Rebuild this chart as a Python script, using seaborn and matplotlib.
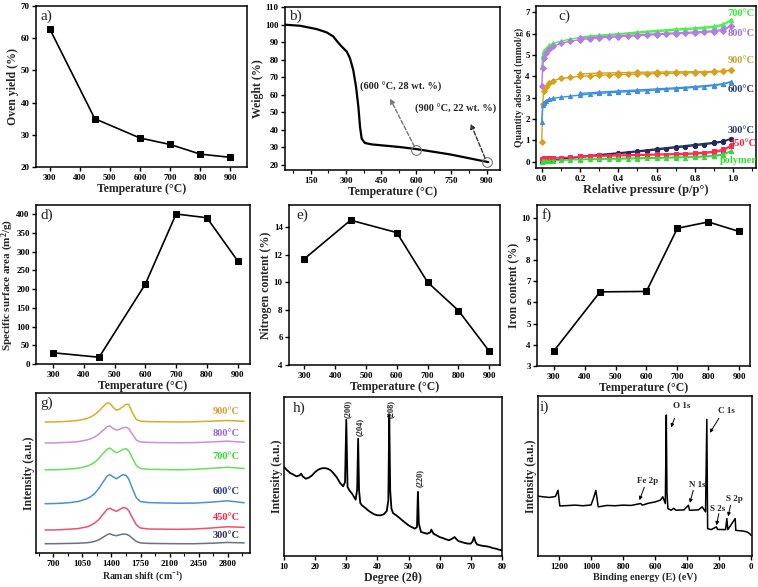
import numpy as np
import pandas as pd
import matplotlib
matplotlib.use("Agg")
import matplotlib.pyplot as plt
import seaborn as sns
from matplotlib.ticker import MultipleLocator, NullLocator

sns.set_theme(style="ticks")
plt.rcParams['font.family'] = ['Liberation Serif', 'DejaVu Serif']
plt.rcParams['font.weight'] = 'bold'
plt.rcParams['axes.labelweight'] = 'bold'
plt.rcParams['mathtext.default'] = 'regular'
plt.rcParams['axes.linewidth'] = 1.1
plt.rcParams['xtick.major.width'] = 1.0
plt.rcParams['ytick.major.width'] = 1.0
plt.rcParams['xtick.minor.width'] = 0.8
plt.rcParams['xtick.major.size'] = 3
plt.rcParams['ytick.major.size'] = 3
plt.rcParams['xtick.minor.size'] = 2
plt.rcParams['xtick.labelsize'] = 6.5
plt.rcParams['ytick.labelsize'] = 6.5
plt.rcParams['axes.labelsize'] = 8.5
plt.rcParams['xtick.major.pad'] = 2
plt.rcParams['ytick.major.pad'] = 1.5
plt.rcParams['axes.labelpad'] = 1

# ---------------- data ----------------
temps = [300, 450, 600, 700, 800, 900]
oven_yield = [63, 35, 29, 27, 24, 23]
surface_area = [30, 18, 213, 400, 390, 275]
nitrogen = [11.7, 14.5, 13.6, 10.0, 7.95, 5.0]
iron = [3.7, 6.5, 6.52, 9.5, 9.8, 9.35]

tga_T = [40, 104, 175, 218, 246, 263, 282, 303, 317, 331, 343, 353, 360, 367, 381, 410, 530, 602, 744, 907]
tga_W = [99.9, 99.3, 97.4, 95.5, 93.2, 90.3, 87.4, 84.6, 80.8, 74.1, 64.5, 53.0, 41.6, 34.9, 32.4, 31.6, 30.1, 28.9, 25.9, 21.5]
tga_marks_T = [600, 900]
tga_marks_W = [28.3, 21.6]

p_ads = [0.0, 0.005, 0.01, 0.02, 0.04, 0.06, 0.1, 0.15, 0.2, 0.25, 0.3, 0.35, 0.4, 0.45, 0.5,
         0.55, 0.6, 0.65, 0.7, 0.75, 0.8, 0.85, 0.9, 0.95, 0.99]
p_des = [0.99, 0.95, 0.9, 0.8, 0.7, 0.6, 0.5, 0.4, 0.3, 0.2]
iso_labels = ['700°C', '800°C', '900°C', '600°C', '300°C', '450°C', 'polymer']
ads_700 = [4.45, 5.0, 5.2, 5.3, 5.45, 5.55, 5.65, 5.75, 5.82, 5.87, 5.9, 5.94, 5.97, 6.0, 6.03,
           6.07, 6.1, 6.13, 6.16, 6.2, 6.22, 6.25, 6.3, 6.4, 6.65]
des_700 = [6.65, 6.45, 6.35, 6.27, 6.22, 6.15, 6.08, 6.0, 5.93, 5.85]
ads_800 = [3.55, 4.4, 4.85, 5.1, 5.3, 5.42, 5.55, 5.65, 5.72, 5.77, 5.8, 5.83, 5.86, 5.88, 5.9,
           5.93, 5.96, 5.98, 6.0, 6.02, 6.04, 6.06, 6.1, 6.15, 6.38]
des_800 = [6.38, 6.2, 6.14, 6.08, 6.04, 6.0, 5.95, 5.9, 5.85, 5.78]
ads_900 = [0.9, 2.7, 3.3, 3.5, 3.7, 3.8, 3.9, 3.95, 4.0, 4.03, 4.05, 4.07, 4.08, 4.1, 4.11,
           4.12, 4.13, 4.14, 4.15, 4.16, 4.17, 4.18, 4.2, 4.23, 4.3]
des_900 = [4.3, 4.25, 4.23, 4.22, 4.21, 4.2, 4.19, 4.17, 4.15, 4.12]
ads_600 = [1.85, 2.65, 2.75, 2.85, 2.92, 2.97, 3.02, 3.07, 3.12, 3.17, 3.2, 3.23, 3.26, 3.28, 3.3,
           3.33, 3.36, 3.39, 3.42, 3.45, 3.48, 3.52, 3.57, 3.63, 3.75]
des_600 = [3.75, 3.66, 3.6, 3.52, 3.46, 3.41, 3.36, 3.31, 3.26, 3.2]
ads_300 = [0.0, 0.02, 0.03, 0.05, 0.07, 0.09, 0.12, 0.16, 0.2, 0.25, 0.29, 0.33, 0.37, 0.42, 0.46,
           0.5, 0.55, 0.6, 0.65, 0.7, 0.75, 0.8, 0.86, 0.93, 1.08]
des_300 = [1.08, 0.96, 0.9, 0.8, 0.7, 0.6, 0.5, 0.41, 0.33, 0.24]
ads_450 = [0.12, 0.14, 0.15, 0.16, 0.17, 0.18, 0.19, 0.21, 0.23, 0.24, 0.25, 0.26, 0.27, 0.28, 0.29,
           0.3, 0.31, 0.32, 0.33, 0.34, 0.36, 0.39, 0.43, 0.52, 0.75]
des_450 = [0.75, 0.58, 0.48, 0.4, 0.37, 0.35, 0.33, 0.31, 0.29, 0.27]
ads_poly = [0.0, 0.01, 0.02, 0.03, 0.04, 0.05, 0.06, 0.08, 0.09, 0.1, 0.11, 0.12, 0.12, 0.13, 0.14,
            0.15, 0.16, 0.17, 0.18, 0.19, 0.2, 0.22, 0.25, 0.32, 0.5]
des_poly = [0.5, 0.36, 0.28, 0.23, 0.21, 0.19, 0.17, 0.15, 0.13, 0.11]
iso_label_y = [6.93, 6.0, 4.72, 3.4, 1.46, 0.85, 0.05]
iso_label_x = [0.97, 0.97, 0.97, 0.97, 0.97, 0.985, 0.93]

raman_x = [600, 700, 800, 900, 1000, 1100, 1150, 1200, 1250, 1300, 1350, 1380, 1420, 1460, 1500,
           1540, 1580, 1610, 1650, 1700, 1750, 1850, 2000, 2200, 2400, 2600, 2800, 3000]
raman_labels = ['300°C', '450°C', '600°C', '700°C', '800°C', '900°C']
raman_300 = [5.8, 5.8, 5.9, 6.0, 6.1, 6.4, 6.7, 7.3, 8.3, 9.9, 11.5, 12.0, 11.2, 10.8, 11.4,
             11.8, 11.7, 11.0, 9.3, 7.2, 6.3, 6.0, 5.9, 5.8, 5.8, 6.1, 6.6, 6.3]
raman_450 = [14.4, 14.4, 14.6, 14.9, 15.3, 16.3, 17.3, 18.8, 21.0, 24.3, 27.4, 28.0, 26.9, 26.1, 27.2,
             28.4, 28.0, 26.3, 22.2, 17.6, 15.6, 15.0, 14.9, 14.8, 15.0, 15.6, 16.4, 16.0]
raman_600 = [30.8, 30.9, 31.1, 31.5, 32.2, 33.8, 35.2, 37.3, 40.5, 44.5, 48.2, 49.0, 47.6, 46.4, 47.8,
             49.0, 48.4, 46.0, 40.5, 34.5, 32.1, 31.5, 31.3, 31.1, 31.2, 31.8, 32.6, 31.4]
raman_700 = [52.0, 52.0, 52.2, 52.5, 53.0, 54.2, 55.2, 56.8, 59.2, 62.3, 65.0, 65.6, 64.0, 62.6, 63.6,
             64.8, 65.2, 63.6, 59.5, 54.6, 52.8, 52.3, 52.2, 52.0, 52.3, 52.9, 53.6, 52.8]
raman_800 = [68.8, 68.8, 69.0, 69.2, 69.6, 70.6, 71.4, 72.6, 74.4, 76.8, 79.0, 79.4, 77.8, 76.8, 77.4,
             78.2, 78.6, 77.6, 74.4, 70.6, 69.4, 69.1, 69.0, 68.9, 69.0, 69.4, 69.9, 69.2]
raman_900 = [81.9, 81.9, 82.1, 82.4, 82.9, 84.0, 85.0, 86.6, 88.8, 91.6, 93.8, 93.6, 91.0, 89.2, 90.0,
             91.6, 93.0, 92.8, 87.8, 83.4, 82.4, 82.1, 82.0, 81.9, 82.0, 82.4, 82.8, 82.3]
raman_label_y = [10.8, 22.3, 38.5, 60.4, 75.0, 88.5]

xrd_deg = [10, 11, 12, 13, 14, 15, 15.5, 16, 17, 18, 19, 20, 21, 22, 23, 24, 25, 26, 27, 28, 29, 29.6,
           30, 30.4, 31, 32, 33, 33.5, 33.8, 34.1, 34.5, 35, 36, 37, 38, 39, 40, 41, 42, 43, 43.5,
           43.8, 44.1, 44.5, 45, 46, 47, 48, 49, 50, 51, 52, 52.7, 53, 53.3, 54, 55, 56, 57, 57.3,
           58, 59, 60, 61, 62, 63, 64, 64.8, 65.5, 66, 67, 68, 69, 70, 70.6, 71, 71.5, 72, 73, 74,
           75, 76, 77, 78, 79, 80]
xrd_int = [56.0, 53.9, 52.2, 51.2, 50.1, 50.7, 51.8, 50.1, 48.6, 49.3, 50.7, 52.8, 54.3, 55.1, 55.3,
           54.9, 53.9, 51.8, 49.3, 45.9, 43.8, 46.5, 85.7, 43.4, 41.3, 38.8, 35.4, 42.0, 73.8, 41.3,
           33.3, 31.9, 30.4, 28.7, 27.3, 26.2, 25.6, 25.6, 26.2, 28.3, 35.0, 89.1, 41.3, 29.8, 27.0,
           25.6, 24.1, 22.4, 20.8, 19.3, 18.2, 17.2, 18.2, 40.3, 20.3, 15.1, 14.5, 14.0, 14.9, 16.6,
           14.0, 13.0, 11.9, 11.3, 10.5, 9.9, 10.9, 11.9, 10.3, 9.4, 8.8, 8.2, 7.8, 7.8, 9.4, 11.9,
           8.8, 7.3, 6.7, 6.3, 6.1, 5.7, 5.0, 4.6, 4.0, 3.6]
xrd_peaks = ['(200)', '(204)', '(208)', '(220)']
xrd_peak_x = [30.5, 34.4, 44.4, 53.6]
xrd_peak_y = [92.5, 81.0, 92.5, 49.3]

xps_eV = [1331, 1300, 1260, 1222, 1206, 1195, 1150, 1100, 1050, 1000, 985, 970, 955, 900, 850, 800,
          750, 700, 690, 680, 640, 600, 567, 552, 536, 530, 526, 520, 500, 484, 470, 420, 392, 385,
          330, 306, 285, 277, 272, 250, 217, 210, 160, 152, 146, 100, 96, 50, 25, 10, 0]
xps_int = [37.4, 37.0, 36.6, 37.2, 41.1, 31.3, 31.5, 31.8, 31.4, 31.9, 36.0, 41.0, 30.7, 31.6, 31.4,
           31.8, 31.6, 32.6, 32.8, 31.8, 33.0, 33.8, 34.9, 37.0, 32.8, 88.1, 40.0, 29.6, 28.6, 29.8,
           28.6, 28.8, 31.7, 28.6, 28.8, 30.7, 27.6, 85.4, 17.1, 16.5, 18.2, 16.6, 16.5, 23.4, 16.5,
           23.4, 16.0, 15.6, 15.0, 14.0, 12.9]
xps_names = ['O 1s', 'C 1s', 'Fe 2p', 'N 1s', 'S 2s', 'S 2p']
xps_text_x = [435, 156, 646, 335, 210, 104]
xps_text_y = [93.7, 90.8, 47.0, 44.3, 29.6, 35.9]
xps_tail_x = [479, 202, 667, 362, 202, 129]
xps_tail_y = [86.0, 86.0, 43.0, 41.0, 26.5, 31.7]
xps_head_x = [500, 258, 698, 383, 217, 144]
xps_head_y = [80.4, 77.0, 34.9, 33.2, 19.2, 24.8]

# ---------------- layout ----------------
W, H = 758, 587
fig = plt.figure(figsize=(W / 100, H / 100), dpi=100)


def add_ax(l, t, r, b):
    return fig.add_axes([l / W, 1 - b / H, (r - l) / W, (b - t) / H])


def panel_label(ax, s, x=0.02, y=0.98):
    ax.text(x, y, s, transform=ax.transAxes, ha='left', va='top', fontsize=11, fontweight='normal')


def line_marks(ax, x, y):
    sns.lineplot(x=x, y=y, ax=ax, color='black', marker='s', markersize=4.5,
                 markeredgecolor='black', linewidth=1.2, estimator=None, sort=False)


# a) oven yield
ax = add_ax(36, 6, 247, 167)
line_marks(ax, temps, oven_yield)
ax.set_xlim(255, 955)
ax.set_ylim(20, 70)
ax.xaxis.set_major_locator(MultipleLocator(100))
ax.yaxis.set_major_locator(MultipleLocator(10))
ax.set_xlabel('Temperature (°C)')
ax.set_ylabel('Oven yield (%)')
panel_label(ax, 'a)')

# b) TGA
ax = add_ax(285, 7, 500, 170)
sns.lineplot(x=tga_T, y=tga_W, ax=ax, color='black', linewidth=1.6, estimator=None, sort=False)
ax.plot(tga_marks_T, tga_marks_W, linestyle='none', marker='o', markersize=7,
        markerfacecolor='none', markeredgecolor='#777777', markeredgewidth=0.8)
ax.annotate('', xy=(488, 57.8), xytext=(tga_marks_T[0], tga_marks_W[0]),
            arrowprops=dict(arrowstyle='-|>', color='#777777', lw=1.0, ls=(0, (3, 1.5)),
                            mutation_scale=7, shrinkA=3, shrinkB=0))
ax.annotate('', xy=(832, 43.5), xytext=(tga_marks_T[1], tga_marks_W[1]),
            arrowprops=dict(arrowstyle='-|>', color='#333333', lw=1.0, ls=(0, (3, 1.5)),
                            mutation_scale=7, shrinkA=3, shrinkB=0))
ax.text(533, 64.1, '(600 °C, 28 wt. %)', ha='center', va='center', fontsize=7.5)
ax.text(768, 51.7, '(900 °C, 22 wt. %)', ha='center', va='center', fontsize=7.5)
ax.set_xlim(40, 957)
ax.set_ylim(17, 110)
ax.xaxis.set_major_locator(MultipleLocator(150))
ax.xaxis.set_minor_locator(MultipleLocator(75))
ax.yaxis.set_major_locator(MultipleLocator(10))
ax.set_xlabel('Temperature (°C)')
ax.set_ylabel('Weight (%)')
panel_label(ax, 'b)', 0.02, 0.985)

# c) isotherms
ax = add_ax(536, 6, 756, 168)
ads_list = [ads_700, ads_800, ads_900, ads_600, ads_300, ads_450, ads_poly]
des_list = [des_700, des_800, des_900, des_600, des_300, des_450, des_poly]
iso_colors = ['#4cf04c', '#b27ee6', '#d6a21e', '#3d8fe0', '#1f2d5c', '#ff2a55', '#3ad83a']
iso_text_colors = ['#33ee33', '#a070e0', '#c9a030', '#2c3a88', '#2c3a70', '#ff2040', '#33dd33']
iso_markers = ['^', 'D', 'D', '^', 'o', 's', '^']
for ads, des, col, mk in zip(ads_list, des_list, iso_colors, iso_markers):
    sns.lineplot(x=p_ads, y=ads, ax=ax, color=col, marker=mk, markersize=3, markeredgecolor=col,
                 linewidth=1.0, estimator=None, sort=False)
    sns.lineplot(x=p_des, y=des, ax=ax, color=col, marker=mk, markersize=3, markeredgecolor=col,
                 linewidth=1.0, estimator=None, sort=False)
for lab, lx, ly, tc in zip(iso_labels, iso_label_x, iso_label_y, iso_text_colors):
    ax.text(lx, ly, lab, color=tc, fontsize=7.5, ha='left', va='center', clip_on=False)
ax.set_xlim(-0.03, 1.12)
ax.set_ylim(-0.3, 7.3)
ax.xaxis.set_major_locator(MultipleLocator(0.2))
ax.xaxis.set_minor_locator(MultipleLocator(0.1))
ax.yaxis.set_major_locator(MultipleLocator(1))
ax.set_xlabel('Relative pressure (p/p°)', fontsize=9)
ax.set_ylabel('Quantity adsorbed (mmol/g)', fontsize=7)
panel_label(ax, 'c)', 0.1, 0.98)

# d) surface area
ax = add_ax(36, 205, 250, 364)
line_marks(ax, temps, surface_area)
ax.set_xlim(245, 940)
ax.set_ylim(0, 424)
ax.xaxis.set_major_locator(MultipleLocator(100))
ax.yaxis.set_major_locator(MultipleLocator(50))
ax.set_xlabel('Temperature (°C)')
ax.set_ylabel('Specific surface area (m$^2$/g)', fontsize=8, labelpad=0)
panel_label(ax, 'd)')

# e) nitrogen
ax = add_ax(289, 205, 500, 365)
line_marks(ax, temps, nitrogen)
ax.set_xlim(250, 935)
ax.set_ylim(4, 15.6)
ax.xaxis.set_major_locator(MultipleLocator(100))
ax.yaxis.set_major_locator(MultipleLocator(2))
ax.set_xlabel('Temperature (°C)')
ax.set_ylabel('Nitrogen content (%)')
panel_label(ax, 'e)', 0.035, 0.98)

# f) iron
ax = add_ax(537, 205, 750, 366)
line_marks(ax, temps, iron)
ax.set_xlim(246, 935)
ax.set_ylim(3, 10.6)
ax.xaxis.set_major_locator(MultipleLocator(100))
ax.yaxis.set_major_locator(MultipleLocator(1))
ax.set_xlabel('Temperature (°C)')
ax.set_ylabel('Iron content (%)')
panel_label(ax, 'f)')

# g) Raman
ax = add_ax(36, 393, 250, 553)
raman_list = [raman_300, raman_450, raman_600, raman_700, raman_800, raman_900]
raman_colors = ['#6a6f8c', '#f0506e', '#4a90d8', '#66e05a', '#c98ee0', '#deaa2a']
raman_text_colors = ['#333355', '#ff2040', '#2c3a88', '#33dd33', '#9a68d8', '#e09a3a']
for spec, col in zip(raman_list, raman_colors):
    sns.lineplot(x=raman_x, y=spec, ax=ax, color=col, linewidth=1.1, estimator=None, sort=False)
for lab, ly, tc in zip(raman_labels, raman_label_y, raman_text_colors):
    ax.text(2620, ly, lab, color=tc, fontsize=7.5, ha='left', va='center')
ax.set_xlim(490, 3070)
ax.set_ylim(0, 100)
ax.xaxis.set_major_locator(MultipleLocator(350))
ax.xaxis.set_minor_locator(MultipleLocator(175))
ax.yaxis.set_major_locator(NullLocator())
ax.set_xlabel('Raman shift (cm$^{-1}$)', fontsize=7)
ax.set_ylabel('Intensity (a.u.)')
panel_label(ax, 'g)')

# h) XRD
ax = add_ax(284, 397, 502, 556)
sns.lineplot(x=xrd_deg, y=xrd_int, ax=ax, color='black', linewidth=1.3, estimator=None, sort=False)
for lab, px, py in zip(xrd_peaks, xrd_peak_x, xrd_peak_y):
    ax.text(px, py, lab, rotation=90, ha='center', va='center', fontsize=6)
ax.set_xlim(10, 80)
ax.set_ylim(0, 100)
ax.xaxis.set_major_locator(MultipleLocator(10))
ax.yaxis.set_major_locator(NullLocator())
ax.set_xlabel('Degree (2θ)')
ax.set_ylabel('Intensity (a.u.)')
panel_label(ax, 'h)', 0.04, 0.97)

# i) XPS
ax = add_ax(538, 396, 752, 556)
sns.lineplot(x=xps_eV, y=xps_int, ax=ax, color='black', linewidth=1.1, estimator=None, sort=False)
for lab, tx, ty, ax0, ay0, hx, hy in zip(xps_names, xps_text_x, xps_text_y, xps_tail_x,
                                          xps_tail_y, xps_head_x, xps_head_y):
    ax.text(tx, ty, lab, ha='center', va='center', fontsize=6.5)
    ax.annotate('', xy=(hx, hy), xytext=(ax0, ay0),
                arrowprops=dict(arrowstyle='-|>', color='black', lw=0.7, mutation_scale=5,
                                shrinkA=0, shrinkB=0))
ax.set_xlim(1331, -5)
ax.set_ylim(0, 100)
ax.xaxis.set_major_locator(MultipleLocator(200))
ax.yaxis.set_major_locator(NullLocator())
ax.set_xlabel('Binding energy (E) (eV)', fontsize=7.3)
ax.set_ylabel('Intensity (a.u.)')
panel_label(ax, 'i)', 0.01, 0.97)

for a in fig.axes:
    for s in a.spines.values():
        s.set_visible(True)
        s.set_color('black')
    a.tick_params(colors='black', which='both')

fig.savefig('out.png', dpi=100)
